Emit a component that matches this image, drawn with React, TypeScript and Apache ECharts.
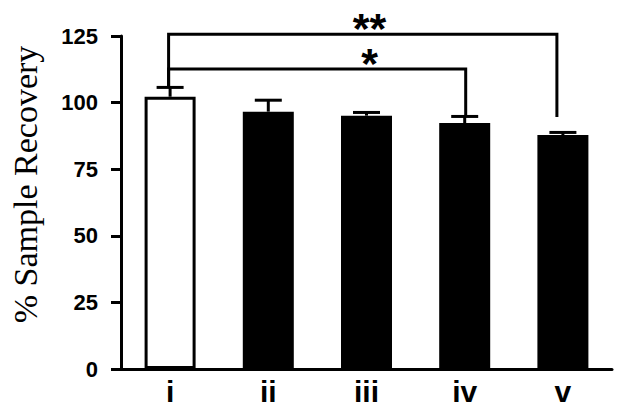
import React, { useEffect, useRef } from 'react';
import * as echarts from 'echarts';

const categories = ['i', 'ii', 'iii', 'iv', 'v'];
const meanValues = [102.2, 96.6, 95.1, 92.3, 87.8];
const errorValues = [3.5, 4.3, 1.2, 2.5, 1.0];
const yMin = 0;
const yMax = 125;
const yInterval = 25;
const yAxisTitle = '% Sample Recovery';

const bracketLabels = ['**', '*'];
const bracketFrom = ['i', 'i'];
const bracketTo = ['v', 'iv'];
const bracketLevels = [125.7, 112.6];
const bracketLeftEnds = [105.7, 105.7];
const bracketRightEnds = [94.6, 94.8];
const bracketLabelAt = ['iii', 'iii'];

const SANS = '"Liberation Sans", Arial, Helvetica, sans-serif';
const SERIF = '"Liberation Serif", "Times New Roman", serif';

export default function App() {
  const ref = useRef<HTMLDivElement>(null);
  useEffect(() => {
    if (!ref.current) return;
    document.body.style.margin = '0';
    const chart = echarts.init(ref.current, null, { renderer: 'svg' });

    const barData = meanValues.map((v, i) =>
      i === 0
        ? { value: v, itemStyle: { color: '#ffffff', borderColor: '#000000', borderWidth: 3 } }
        : { value: v, itemStyle: { color: '#000000' } }
    );
    const errData = categories.map((c, i) => [i, meanValues[i], meanValues[i] + errorValues[i]]);
    const bracketData = bracketLabels.map((l, k) => [
      categories.indexOf(bracketFrom[k]),
      bracketLevels[k],
      categories.indexOf(bracketTo[k]),
      bracketLeftEnds[k],
      bracketRightEnds[k],
      categories.indexOf(bracketLabelAt[k]),
    ]);

    chart.setOption({
      animation: false,
      grid: { left: 114, right: 12, top: 36, bottom: 44, containLabel: false },
      xAxis: {
        type: 'category',
        data: categories,
        z: 5,
        axisLine: { lineStyle: { color: '#000', width: 3 } },
        axisTick: { show: false },
        axisLabel: {
          color: '#000',
          fontFamily: SANS,
          fontWeight: 'bold',
          fontSize: 30,
          margin: 7,
        },
      },
      yAxis: {
        type: 'value',
        min: yMin,
        max: yMax,
        interval: yInterval,
        name: yAxisTitle,
        nameLocation: 'middle',
        nameGap: 79,
        nameTextStyle: {
          color: '#000',
          fontFamily: SERIF,
          fontSize: 34,
          padding: [0, 0, 0, 36],
        },
        splitLine: { show: false },
        axisLine: { show: true, lineStyle: { color: '#000', width: 3 } },
        axisTick: { show: true, length: 10, lineStyle: { color: '#000', width: 3 } },
        axisLabel: {
          color: '#000',
          fontFamily: SANS,
          fontWeight: 'bold',
          fontSize: 22,
          margin: 23,
        },
      },
      series: [
        {
          type: 'bar',
          data: barData,
          barWidth: 51,
          z: 2,
        },
        {
          type: 'custom',
          z: 3,
          clip: false,
          data: errData,
          renderItem: (params: any, api: any) => {
            const idx = api.value(0);
            const base = api.coord([idx, api.value(1)]);
            const top = api.coord([idx, api.value(2)]);
            const half = 13.5;
            return {
              type: 'group',
              children: [
                {
                  type: 'line',
                  shape: { x1: base[0], y1: base[1], x2: top[0], y2: top[1] },
                  style: { stroke: '#000', lineWidth: 3 },
                },
                {
                  type: 'line',
                  shape: { x1: top[0] - half, y1: top[1], x2: top[0] + half, y2: top[1] },
                  style: { stroke: '#000', lineWidth: 3 },
                },
              ],
            };
          },
        },
        {
          type: 'custom',
          z: 4,
          clip: false,
          data: bracketData,
          renderItem: (params: any, api: any) => {
            const k = params.dataIndex;
            const fromIdx = api.value(0);
            const level = api.value(1);
            const toIdx = api.value(2);
            const leftEnd = api.value(3);
            const rightEnd = api.value(4);
            const labIdx = api.value(5);
            const pL = api.coord([fromIdx, level]);
            const pLe = api.coord([fromIdx, leftEnd]);
            const pR = api.coord([toIdx, level]);
            const pRe = api.coord([toIdx, rightEnd]);
            const pLab = api.coord([labIdx, level]);
            const rOff = toIdx === categories.length - 1 ? -6 : 1;
            const lOff = -1.5;
            return {
              type: 'group',
              children: [
                {
                  type: 'polyline',
                  shape: {
                    points: [
                      [pLe[0] + lOff, pLe[1]],
                      [pL[0] + lOff, pL[1]],
                      [pR[0] + rOff, pR[1]],
                      [pRe[0] + rOff, pRe[1]],
                    ],
                  },
                  style: { stroke: '#000', lineWidth: 3, fill: null },
                },
                {
                  type: 'text',
                  style: {
                    text: bracketLabels[k],
                    x: pLab[0] + 3,
                    y: pLab[1] - 6,
                    fill: '#000',
                    font: 'bold 43px ' + SANS,
                    lineHeight: 18,
                    align: 'center',
                    verticalAlign: 'middle',
                  },
                },
              ],
            };
          },
        },
      ],
    });
    return () => chart.dispose();
  }, []);
  return <div ref={ref} style={{ width: 624, height: 413 }} />;
}
